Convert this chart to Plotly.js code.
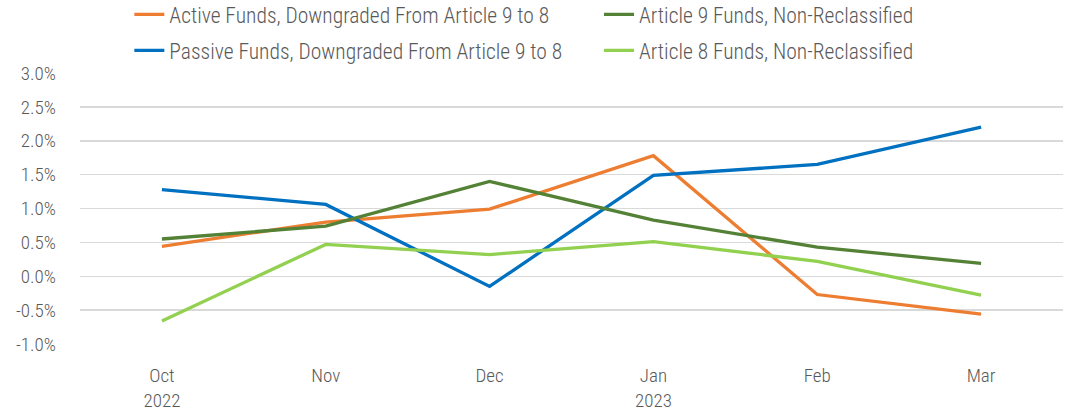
<!DOCTYPE html>
<html>
<head>
<meta charset="utf-8">
<script src="https://cdn.plot.ly/plotly-3.0.1.min.js"></script>
<style>html,body{margin:0;padding:0;background:#fff;}#chart{width:1065px;height:417px;}</style>
</head>
<body>
<div id="chart"></div>
<script>
const categories = ["Oct<br>2022", "Nov", "Dec", "Jan<br>2023", "Feb", "Mar"];
const activeDowngraded = [0.44, 0.80, 0.99, 1.78, -0.27, -0.56];
const article9NonReclassified = [0.55, 0.74, 1.40, 0.83, 0.43, 0.19];
const passiveDowngraded = [1.28, 1.06, -0.15, 1.49, 1.65, 2.20];
const article8NonReclassified = [-0.66, 0.47, 0.32, 0.51, 0.22, -0.28];
const yTickVals = [-1, -0.5, 0, 0.5, 1, 1.5, 2, 2.5, 3];
const yTickText = ["-1.0%", "-0.5%", "0.0%", "0.5%", "1.0%", "1.5%", "2.0%", "2.5%", "3.0%"];

const FONT = '"Roboto Condensed", "Roboto", sans-serif';
const GREY = "#595959";
function tr(name, y, color, legend, group) {
  return {type: "scatter", mode: "lines", name: name, x: categories, y: y,
          line: {color: color, width: 3.3}, hoverinfo: "skip",
          legend: legend, legendgroup: group};
}
const data = [
  tr("Active Funds, Downgraded From Article 9 to 8", activeDowngraded, "#ED7D31", "legend", "a"),
  tr("Passive Funds, Downgraded From Article 9 to 8", passiveDowngraded, "#0070C0", "legend", "b"),
  tr("Article 9 Funds, Non-Reclassified", article9NonReclassified, "#538135", "legend2", "c"),
  tr("Article 8 Funds, Non-Reclassified", article8NonReclassified, "#92D050", "legend2", "d")
];
const legFont = {family: FONT, size: 21.5, color: GREY, weight: 300};
const layout = {
  width: 1065, height: 417,
  margin: {l: 80, r: 2, t: 73, b: 73, autoexpand: false},
  paper_bgcolor: "#fff", plot_bgcolor: "#fff",
  font: {family: FONT, size: 19, color: GREY, weight: 300},
  showlegend: true,
  legend: {orientation: "v", x: 0.0502, xanchor: "left", y: 1.292, yanchor: "top",
           itemwidth: 30, font: legFont, tracegroupgap: 5, bgcolor: "rgba(0,0,0,0)"},
  legend2: {orientation: "v", x: 0.528, xanchor: "left", y: 1.292, yanchor: "top",
           itemwidth: 30, font: legFont, tracegroupgap: 5, bgcolor: "rgba(0,0,0,0)"},
  xaxis: {type: "category", range: [-0.5, 5.5], showgrid: false, zeroline: false, showline: false,
          ticks: "", ticklabelstandoff: 18,
          tickfont: {family: FONT, size: 19, color: GREY, weight: 300}, fixedrange: true},
  yaxis: {range: [-1, 3], tickvals: yTickVals, ticktext: yTickText, showgrid: true,
          gridcolor: "#D9D9D9", gridwidth: 1.5, zeroline: false, showline: false,
          ticks: "", ticklabelstandoff: 23,
          tickfont: {family: FONT, size: 19, color: GREY, weight: 300}, fixedrange: true}
};
Plotly.newPlot("chart", data, layout, {staticPlot: true, displayModeBar: false});
</script>
</body>
</html>
